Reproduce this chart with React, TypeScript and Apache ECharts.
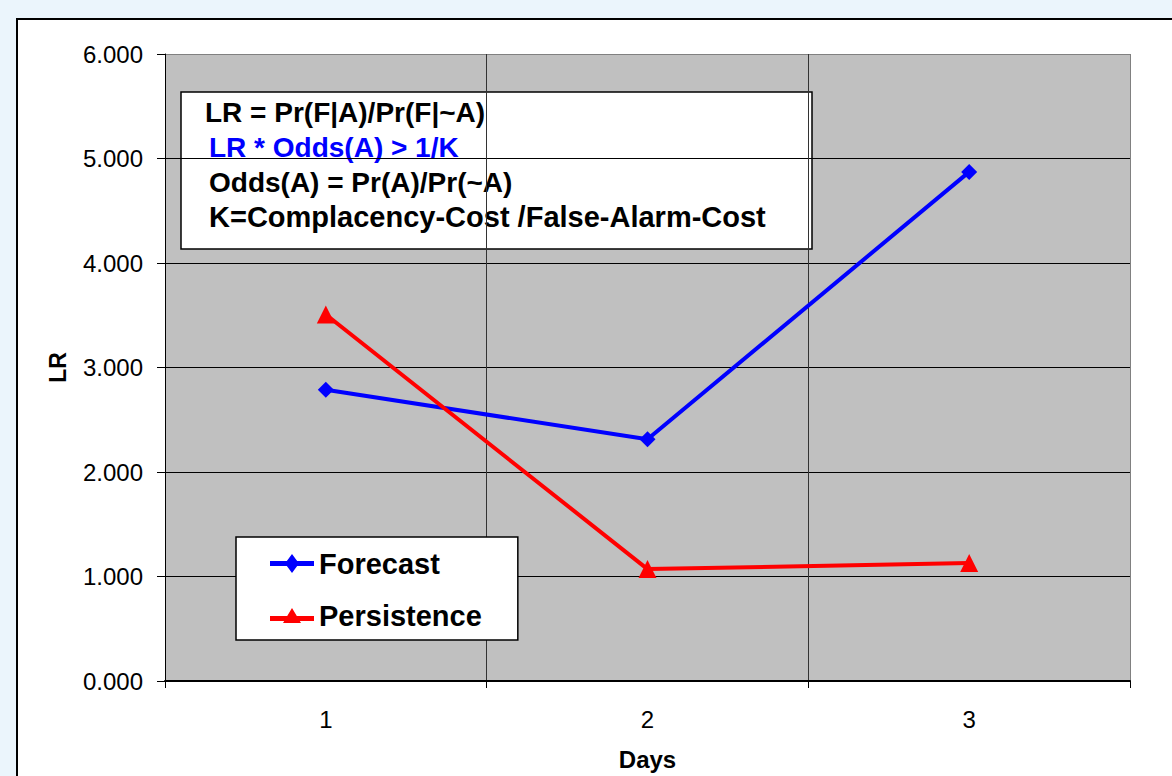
import React, { useEffect, useRef } from "react";
import * as echarts from "echarts";

const days = ["1", "2", "3"];
const forecast = [2.787, 2.313, 4.872];
const persistence = [3.507, 1.071, 1.128];
const boxLines = [
  "LR = Pr(F|A)/Pr(F|~A)",
  "LR * Odds(A) > 1/K",
  "Odds(A) = Pr(A)/Pr(~A)",
  "K=Complacency-Cost /False-Alarm-Cost",
];
const boxColors = ["#000000", "#0000ff", "#000000", "#000000"];

const FONT = "'Liberation Sans', Arial, sans-serif";

const ICON_DIAMOND = "path://M0,7 L44,7 L44,12 L0,12 Z M22,0 L29,9.5 L22,19 L15,9.5 Z";
const ICON_TRIANGLE = "path://M0,8 L44,8 L44,13 L0,13 Z M22,0 L31,15 L13,15 Z";

export default function App() {
  const ref = useRef<HTMLDivElement>(null);
  useEffect(() => {
    if (!ref.current) return;
    const chart = echarts.init(ref.current, undefined, { renderer: "svg" });
    const lineX = [205, 209, 209, 209];
    const lineY = [112, 147, 182, 217];
    const lineSize = [28, 28, 28, 29];
    chart.setOption({
      animation: false,
      backgroundColor: "#ebf5fc",
      textStyle: { fontFamily: FONT },
      grid: {
        left: 165,
        top: 54,
        right: 42,
        bottom: 89,
        show: true,
        backgroundColor: "#c0c0c0",
        borderColor: "#808080",
        borderWidth: 0,
      },
      graphic: [
        {
          type: "rect",
          z: -10,
          silent: true,
          shape: { x: 17, y: 19, width: 1200, height: 800 },
          style: { fill: "#ffffff", stroke: "#000000", lineWidth: 2 },
        },
        {
          type: "group",
          z: 100,
          children: [
            {
              type: "rect",
              shape: { x: 181, y: 92, width: 631, height: 157 },
              style: { fill: "#ffffff", stroke: "#000000", lineWidth: 1.5 },
            },
            ...boxLines.map((t, i) => ({
              type: "text",
              x: lineX[i],
              y: lineY[i],
              style: {
                text: t,
                fill: boxColors[i],
                font: `bold ${lineSize[i]}px ${FONT}`,
                textVerticalAlign: "middle",
                verticalAlign: "middle",
              },
            })),
          ],
        },
      ],
      legend: {
        orient: "vertical",
        left: 236,
        top: 537,
        padding: [12, 36, 10, 34],
        itemGap: 23,
        itemWidth: 44,
        itemHeight: 19,
        backgroundColor: "#ffffff",
        borderColor: "#000000",
        borderWidth: 1.5,
        borderRadius: 0,
        textStyle: { fontSize: 29, fontWeight: "bold", color: "#000000", fontFamily: FONT },
        data: [
          { name: "Forecast", icon: ICON_DIAMOND },
          { name: "Persistence", icon: ICON_TRIANGLE },
        ],
      },
      xAxis: {
        type: "category",
        data: days,
        boundaryGap: true,
        name: "Days",
        nameLocation: "middle",
        nameGap: 66,
        nameTextStyle: { fontSize: 24, fontWeight: "bold", color: "#000000", fontFamily: FONT },
        axisLine: { show: true, lineStyle: { color: "#000000", width: 2 } },
        axisTick: { show: true, length: 7, lineStyle: { color: "#000000" } },
        axisLabel: { fontSize: 24, color: "#000000", margin: 26, fontFamily: FONT },
        splitLine: {
          show: true,
          lineStyle: { color: ["#808080", "#333333", "#333333", "#808080"], width: 1 },
        },
      },
      yAxis: {
        type: "value",
        min: 0,
        max: 6,
        interval: 1,
        name: "LR",
        nameLocation: "middle",
        nameGap: 96,
        nameRotate: 90,
        nameTextStyle: { fontSize: 23, fontWeight: "bold", color: "#000000", fontFamily: FONT },
        axisLine: { show: true, lineStyle: { color: "#000000", width: 1 } },
        axisTick: { show: true, length: 8, lineStyle: { color: "#000000" } },
        axisLabel: {
          fontSize: 24,
          color: "#000000",
          margin: 22,
          fontFamily: FONT,
          formatter: (v: number) => v.toFixed(3),
        },
        splitLine: {
          show: true,
          lineStyle: {
            color: ["#000000", "#000000", "#000000", "#000000", "#000000", "#000000", "#808080"],
            width: 1,
          },
        },
      },
      series: [
        {
          name: "Forecast",
          type: "line",
          data: forecast,
          symbol: "diamond",
          symbolSize: 16,
          lineStyle: { color: "#0000ff", width: 4 },
          itemStyle: { color: "#0000ff" },
          z: 5,
        },
        {
          name: "Persistence",
          type: "line",
          data: persistence,
          symbol: "triangle",
          symbolSize: 18,
          lineStyle: { color: "#ff0000", width: 4 },
          itemStyle: { color: "#ff0000" },
          z: 5,
        },
      ],
    });
    return () => chart.dispose();
  }, []);
  return (
    <div
      ref={ref}
      style={{ position: "fixed", left: 0, top: 0, width: 1172, height: 776 }}
    />
  );
}
